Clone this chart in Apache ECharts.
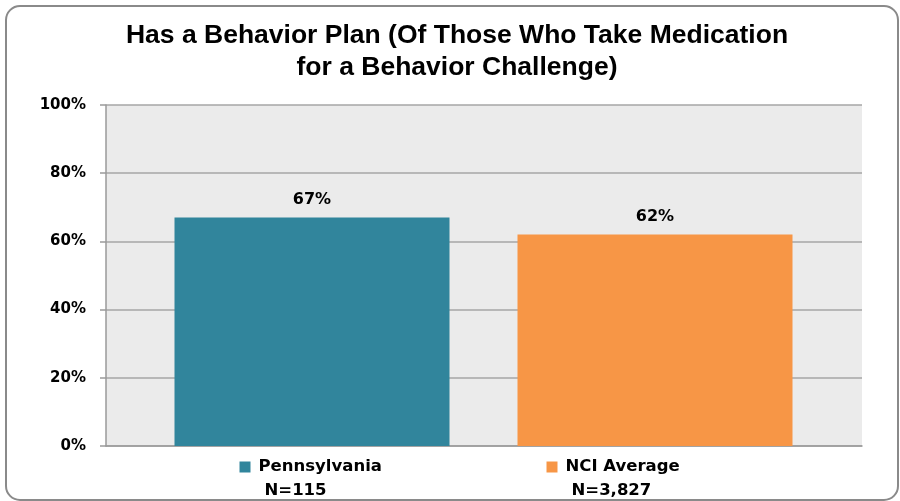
<!DOCTYPE html>
<html>
<head>
<meta charset="utf-8">
<script src="https://cdn.jsdelivr.net/npm/echarts@6/dist/echarts.min.js"></script>
<style>html,body{margin:0;padding:0;background:#fff}#c{width:900px;height:501px}</style>
</head>
<body>
<div id="c"></div>
<script>
var categories = ['Pennsylvania', 'NCI Average'];
var sampleSizes = ['N=115', 'N=3,827'];
var values = [67, 62];
var barColors = ['#31859C', '#F79646'];
var yTicks = [0, 20, 40, 60, 80, 100];
var titleText = 'Has a Behavior Plan (Of Those Who Take Medication\nfor a Behavior Challenge)';

// label block widths (px) to reproduce the hand-placed text boxes under the bars
var blockWidth = [145, 217];

var chart = echarts.init(document.getElementById('c'), null, {renderer: 'canvas'});
var labelFont = 'DejaVu Sans';
var labelSize = 16.5;
var ctx = document.createElement('canvas').getContext('2d');
ctx.font = 'bold ' + labelSize + 'px "' + labelFont + '"';
function tw(s) { return ctx.measureText(s).width; }

var txt = {fontFamily: labelFont, fontWeight: 'bold', fontSize: labelSize, color: '#000', lineHeight: 24};
var rich = {t: txt};
[0, 1].forEach(function (i) {
  rich['sq' + i] = {width: 11, height: 11, backgroundColor: barColors[i]};
  rich['p' + i] = {width: Math.max(0, blockWidth[i] - 19 - tw(categories[i])), lineHeight: 24};
  rich['q' + i] = {width: Math.max(0, blockWidth[i] - 25 - tw(sampleSizes[i])), lineHeight: 24};
});
rich.g = {width: 8};
rich.ind = {width: 25};

chart.setOption({
  animation: false,
  title: {
    text: titleText, left: 457, top: 20, textAlign: 'center', padding: 0,
    textStyle: {fontFamily: 'Liberation Sans', fontWeight: 'bold', fontSize: 26.5, lineHeight: 32, color: '#000'}
  },
  graphic: [{
    type: 'rect', shape: {x: 6, y: 6, width: 892, height: 494, r: 14},
    style: {fill: 'none', stroke: '#8a8a8a', lineWidth: 2}, silent: true, z: -1
  }],
  grid: [
    {left: 106, right: 38, top: 105, bottom: 55, show: true, backgroundColor: '#EBEBEB', borderWidth: 0},
    {left: 140.5, right: 73.5, top: 105, bottom: 55}
  ],
  xAxis: [
    {gridIndex: 0, type: 'category', data: [''], axisTick: {show: false}, axisLabel: {show: false},
     axisLine: {show: true, lineStyle: {color: '#9a9a9a', width: 1.5}}},
    {gridIndex: 1, type: 'category', data: categories,
     axisLine: {show: false}, axisTick: {show: false},
     axisLabel: {
       margin: 9,
       formatter: function (v, i) {
         return '{sq' + i + '|}{g|}{t|' + v + '}{p' + i + '|}\n{ind|}{t|' + sampleSizes[i] + '}{q' + i + '|}';
       },
       rich: rich
     }}
  ],
  yAxis: [
    {gridIndex: 0, type: 'value', min: 0, max: 100, interval: 20,
     axisLine: {show: true, lineStyle: {color: '#9a9a9a', width: 1.5}},
     axisTick: {show: true, length: 6, lineStyle: {color: '#9a9a9a', width: 1.5}},
     splitLine: {show: true, lineStyle: {color: '#a6a6a6', width: 1.5}},
     axisLabel: {margin: 20, formatter: '{value}%', fontFamily: labelFont, fontWeight: 'bold', fontSize: 15, color: '#000'}},
    {gridIndex: 1, type: 'value', min: 0, max: 100, show: false, splitLine: {show: false}}
  ],
  series: [{
    type: 'bar', xAxisIndex: 1, yAxisIndex: 1,
    data: values.map(function (v, i) { return {value: v, itemStyle: {color: barColors[i]}}; }),
    barWidth: 275,
    label: {show: true, position: 'top', distance: 10, formatter: '{c}%',
      fontFamily: labelFont, fontWeight: 'bold', fontSize: 16, color: '#000'}
  }]
});
</script>
</body>
</html>
